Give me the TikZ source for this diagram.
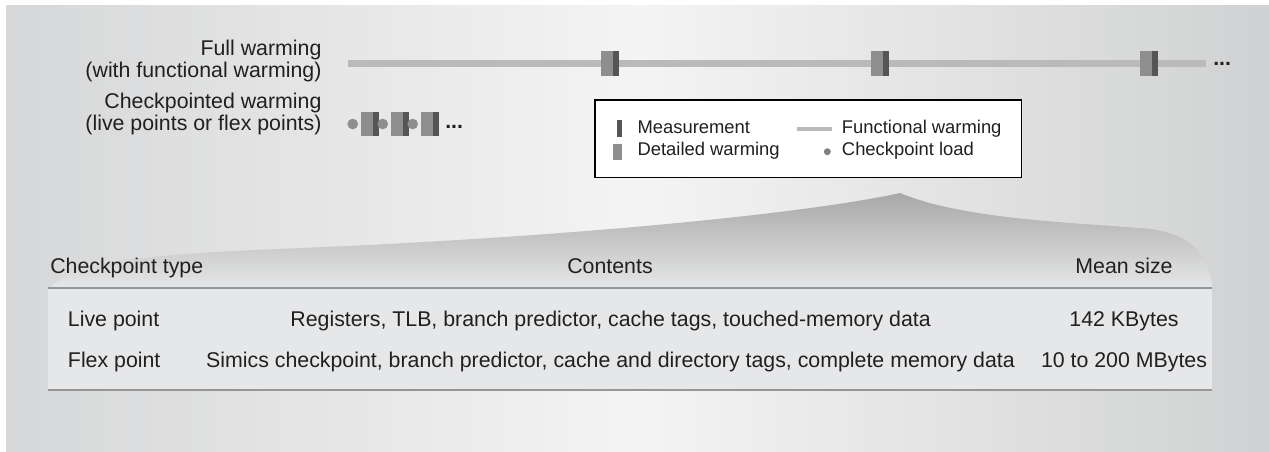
\documentclass[tikz,border=0pt]{standalone}
\usepackage{fontspec}
\setmainfont{Liberation Sans}
\usepackage{tikz}
\usepackage{xcolor}

\definecolor{bgside}{RGB}{214,215,216}
\definecolor{bgmid}{RGB}{244,244,244}
\definecolor{bgright}{RGB}{208,209,210}
\definecolor{fwgray}{RGB}{186,186,186}
\definecolor{dwgray}{RGB}{142,142,142}
\definecolor{msgray}{RGB}{85,85,85}
\definecolor{ldgray}{RGB}{128,128,128}
\definecolor{capgray}{RGB}{168,168,168}
\definecolor{tblfill}{RGB}{230,231,232}
\definecolor{tblline}{RGB}{150,150,150}
\definecolor{txt}{RGB}{35,31,32}

\begin{document}
\begin{tikzpicture}[x=0.75pt,y=0.75pt,yscale=-1,
  lbl/.style={font=\fontsize{16}{19}\selectfont, text=txt, inner sep=0pt},
  lgd/.style={font=\fontsize{13.8}{16}\selectfont, text=txt, inner sep=0pt},
  dotsl/.style={font=\fontsize{16}{19}\selectfont\bfseries, text=txt, inner sep=0pt},
  ckdot/.style={circle, fill=#1, draw=none, inner sep=0pt}]
\path [use as bounding box] (0,0) rectangle (1269,451);

%Shape: Background
\fill [white] (0,0) rectangle (1269,451);
\shade [left color=bgside, right color=bgmid] (6,5) rectangle (640.5,451);
\shade [left color=bgmid, right color=bgright] (640,5) rectangle (1269,451);

%Straight Lines: full warming
\draw [fwgray, line width=5.25pt] (348,63.5) -- (1206,63.5);
\foreach \x in {601,871,1140} {
  \fill [dwgray] (\x,51) rectangle ++(12,25);
  \fill [msgray] (\x+12,51) rectangle ++(6,25);
}
\node (fwdots) [dotsl, anchor=base west] at (1213,65) {...};

%Shape: checkpointed warming
\foreach \i in {0,1,2} {
  \node (ck\i) [ckdot=dwgray, minimum size=8pt] at (352.7+30*\i,124) {};
  \fill [dwgray] (361+30*\i,112) rectangle ++(12,24);
  \fill [msgray] (373+30*\i,112) rectangle ++(5.5,24);
}
\node (cwdots) [dotsl, anchor=base west] at (445,128) {...};

% Text Node
\node (fullw) [lbl, anchor=base east] at (321.7,55) {Full warming};
\node (fullwsub) [lbl, anchor=base east] at (321.7,77.5) {(with functional warming)};
\node (chkw) [lbl, anchor=base east] at (321.7,108) {Checkpointed warming};
\node (chkwsub) [lbl, anchor=base east] at (321.7,130.5) {(live points or flex points)};

%Shape: Legend
\draw [black, fill=white, line width=0.8pt] (595,100) rectangle (1021.7,177.3);
\fill [msgray] (616.7,120) rectangle (621.7,136.7);
\fill [dwgray] (613,144) rectangle (621.7,160);
\draw [fwgray, line width=3pt] (797,129) -- (832,129);
\node (lgdot) [ckdot=ldgray, minimum size=5.2pt] at (827.3,151.7) {};
% Text Node
\node (lgmeas) [lgd, anchor=base west] at (637.3,133.3) {Measurement};
\node (lgdet) [lgd, anchor=base west] at (637.3,155.7) {Detailed warming};
\node (lgfun) [lgd, anchor=base west] at (841.7,133.3) {Functional warming};
\node (lgload) [lgd, anchor=base west] at (841.7,155.7) {Checkpoint load};

%Shape: Callout
\shade [top color=capgray, bottom color=tblfill] (48,289) .. controls (75,262) and (130,255) .. (300,248) .. controls (550,238) and (800,215) .. (900,193) .. controls (960,218) and (1060,222) .. (1140,228) .. controls (1185,231) and (1210,250) .. (1212.3,289) -- cycle;

%Shape: Table
\fill [tblfill] (48,288.3) rectangle (1212.3,390);
\draw [tblline, line width=1.5pt] (48,288.3) -- (1212.3,288.3);
\draw [tblline, line width=1.5pt] (48,390) -- (1212.3,390);

% Text Node
\node (hdtype) [lbl, anchor=base west] at (50,273) {Checkpoint type};
\node (hdcont) [lbl, anchor=base] at (610,273) {Contents};
\node (hdsize) [lbl, anchor=base] at (1124,273) {Mean size};
% Text Node
\node (lptype) [lbl, anchor=base west] at (67.7,326) {Live point};
\node (lpcont) [lbl, anchor=base east] at (931,326) {Registers, TLB, branch predictor, cache tags, touched-memory data};
\node (lpsize) [lbl, anchor=base] at (1124,326) {142 KBytes};
% Text Node
\node (fptype) [lbl, anchor=base west] at (67.7,367.5) {Flex point};
\node (fpcont) [lbl, anchor=base] at (610.5,367.5) {Simics checkpoint, branch predictor, cache and directory tags, complete memory data};
\node (fpsize) [lbl, anchor=base] at (1124,367.5) {10 to 200 MBytes};

\end{tikzpicture}
\end{document}
